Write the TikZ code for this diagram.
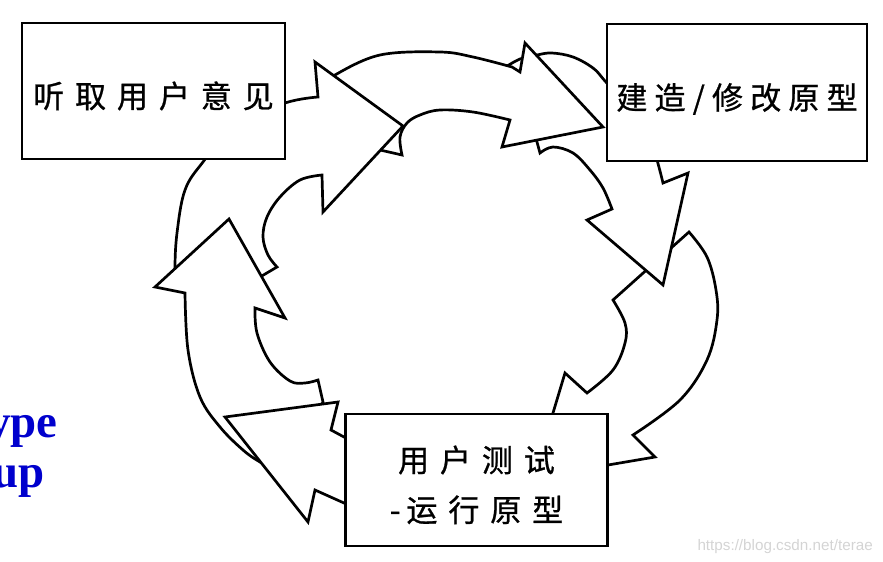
\documentclass[tikz,border=0pt]{standalone}
\usepackage{fontspec}
\setmainfont{Liberation Serif}
\newfontfamily\cjkwide[LetterSpace=35, FakeBold=0.8]{Noto Sans CJK SC}
\newfontfamily\cjknarrow[LetterSpace=23, FakeBold=0.8]{Noto Sans CJK SC}
\newfontfamily\marksans{Liberation Sans}
\usetikzlibrary{positioning}
\definecolor{labelblue}{RGB}{0,0,205}
\definecolor{markgray}{RGB}{212,212,212}
\tikzset{
  stagebox/.style={rectangle, draw=black, fill=white, line width=2.4pt,
    align=center, inner sep=0pt, text height=31pt, text depth=2.4pt,
    font=\cjkwide\fontsize{26.5}{42.5}\selectfont},
  narrowbox/.style={stagebox, font=\cjknarrow\fontsize{26.5}{42.5}\selectfont},
  twolinebox/.style={stagebox, text height=74pt, text depth=3pt},
  cyclearrow/.style={draw=black, fill=white, line width=2.3pt, line join=miter},
  bluetext/.style={inner sep=0pt, text=labelblue, font=\bfseries\fontsize{40}{40}\selectfont},
  marktext/.style={inner sep=0pt, text=markgray, font=\marksans\fontsize{13}{13}\selectfont}
}

\begin{document}
\begin{tikzpicture}[x=0.03cm, y=-0.03cm]
  \useasboundingbox (0,0) rectangle (883,562);

  % Arrows (each head lies over the next tail)
  \filldraw[cyclearrow] (613,300) -- (689,232)
    -- plot[smooth, tension=0.6] coordinates {(689,232) (707,257) (716,290) (717,320) (707,360) (680,400) (633,435)}
    -- (655,457) -- (608,465) -- (575,470) -- (550,425) -- (553,413) -- (565,373) -- (587,393)
    -- plot[smooth, tension=0.6] coordinates {(587,393) (613,370) (625,343) (625,323) (613,300)}
    -- cycle;
  \filldraw[cyclearrow] (504,68)
    -- plot[smooth, tension=0.6] coordinates {(504,68) (520,59) (537,55) (552,53) (573,57) (593,68) (605,81) (630,110) (650,140) (657,160) (663,183)}
    -- (688,173) -- (663,285) -- (587,220) -- (612,209)
    -- plot[smooth, tension=0.6] coordinates {(612,209) (603,188) (590,170) (573,153) (553,147) (540,153)}
    -- (537,142) -- (525,100) -- cycle;
  \filldraw[cyclearrow] (328,84)
    -- plot[smooth, tension=0.6] coordinates {(328,84) (335,75) (380,55) (440,52) (473,57) (512,67)}
    -- (520,72) -- (525,43) -- (603,127) -- (502,147) -- (510,120)
    -- plot[smooth, tension=0.6] coordinates {(510,120) (473,112) (440,110) (420,115) (407,123) (400,137) (402,155)}
    -- (380,150) -- (355,125) -- cycle;
  \filldraw[cyclearrow] (177,282)
    -- plot[smooth, tension=0.6] coordinates {(177,282) (175,268) (177,233) (185,190) (203,162) (235,125) (285,103) (318,97)}
    -- (315,62) -- (403,126) -- (323,212) -- (322,175)
    -- plot[smooth, tension=0.6] coordinates {(322,175) (300,180) (280,197) (267,217) (263,237) (268,255) (277,267)}
    -- (255,280) -- cycle;
  \filldraw[cyclearrow] (280,472)
    -- plot[smooth, tension=0.6] coordinates {(280,472) (260,462) (243,450) (220,427) (200,397) (188,350) (185,293)}
    -- (155,287) -- (229,219) -- (285,318) -- (255,308)
    -- plot[smooth, tension=0.6] coordinates {(255,308) (257,333) (270,362) (290,381) (305,383) (318,380)}
    -- (323,402) -- (300,440) -- cycle;
  \filldraw[cyclearrow] (380,440) -- (344,437) -- (331,430) -- (338,402) -- (225,417)
    -- (308,522) -- (315,490) -- (344,503) -- (380,505) -- cycle;

  % Boxes
  \node[stagebox, minimum width=7.89cm, minimum height=4.08cm] (listen) at (153.5,91) {听取用户意见};
  \node[narrowbox, minimum width=7.8cm, minimum height=4.11cm] (build) at (737,92.5) {建造/修改原型};
  \node[twolinebox, minimum width=7.86cm, minimum height=3.96cm] (test) at (476.5,480) {用户测试\\-\kern0.19em运行原型};

  % Cut-off words and mark
  \node[bluetext, anchor=base east] (ypeword) at (58,437) {ype};
  \node[bluetext, anchor=base east] (upword) at (45,487) {up};
  \node[marktext, anchor=base east] (mark) at (873,550) {https://blog.csdn.net/terae};
\end{tikzpicture}
\end{document}
